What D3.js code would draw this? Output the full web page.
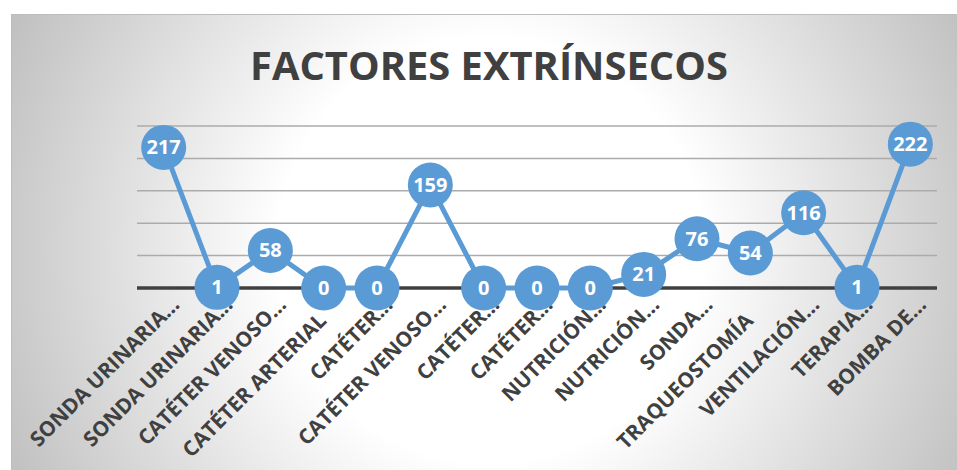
<script src="https://d3js.org/d3.v7.min.js"></script>
<style>
  body { margin: 0; background: #fff; }
  text { font-family: 'Open Sans', sans-serif; font-weight: bold; }
</style>
<svg id="vis"></svg>
<script>
  // Data
  var categories = ['SONDA URINARIA...', 'SONDA URINARIA...', 'CATÉTER VENOSO...', 'CATÉTER ARTERIAL',
    'CATÉTER...', 'CATÉTER VENOSO...', 'CATÉTER...', 'CATÉTER...', 'NUTRICIÓN...', 'NUTRICIÓN...',
    'SONDA...', 'TRAQUEOSTOMÍA', 'VENTILACIÓN...', 'TERAPIA...', 'BOMBA DE...']
  var values = [217, 1, 58, 0, 0, 159, 0, 0, 0, 21, 76, 54, 116, 1, 222]
  var gridTicks = [0, 50, 100, 150, 200, 250]
  var title = 'FACTORES EXTRÍNSECOS'

  var blue = '#5b9bd5'
  var dark = '#404040'

  var svg = d3.select('#vis')
    .attr('width', 957)
    .attr('height', 470)

  // background gradient
  var defs = svg.append('defs')
  var grad = defs.append('radialGradient')
    .attr('id', 'bg')
    .attr('gradientUnits', 'userSpaceOnUse')
    .attr('cx', 490).attr('cy', 250).attr('r', 530)
  grad.append('stop').attr('offset', 0).attr('stop-color', '#ffffff')
  grad.append('stop').attr('offset', 0.4).attr('stop-color', '#ffffff')
  grad.append('stop').attr('offset', 1).attr('stop-color', '#c0c0c0')

  svg.append('rect')
    .attr('x', 11.5).attr('y', 14.5)
    .attr('width', 950).attr('height', 460)
    .attr('fill', 'url(#bg)')
    .attr('stroke', '#bdbdbd')

  // scales
  var x = d3.scalePoint()
    .domain(d3.range(categories.length))
    .range([137, 937])
    .padding(0.5)

  var y = d3.scaleLinear()
    .domain([0, 250])
    .range([288, 126])

  // title, fitted to width
  var t = svg.append('text')
    .attr('x', 489).attr('y', 80)
    .attr('text-anchor', 'middle')
    .attr('fill', dark)
    .style('font-size', '40px')
    .text(title)
  t.style('font-size', (40 * 478 / t.node().getComputedTextLength()) + 'px')

  // gridlines
  svg.append('g').selectAll('line')
    .data(gridTicks.slice(1))
    .enter().append('line')
    .attr('x1', 137).attr('x2', 937)
    .attr('y1', function(d) { return y(d) })
    .attr('y2', function(d) { return y(d) })
    .attr('stroke', '#ababab')
    .attr('stroke-width', 1.5)

  // axis line
  svg.append('line')
    .attr('x1', 137).attr('x2', 937)
    .attr('y1', y(0)).attr('y2', y(0))
    .attr('stroke', dark)
    .attr('stroke-width', 3.5)

  // category labels
  var labels = svg.append('g').selectAll('text')
    .data(categories)
    .enter().append('text')
    .attr('text-anchor', 'end')
    .attr('fill', dark)
    .style('font-size', '20px')
    .text(function(d) { return d })

  // fit label size to the full label width
  var ref = labels.filter(function(d) { return d == 'CATÉTER ARTERIAL' }).node()
  var labelSize = 20 * 193 / ref.getComputedTextLength()
  labels.style('font-size', labelSize + 'px')
    .attr('transform', function(d, i) {
      var cut = d.slice(-3) == '...'
      var lx = x(i) + (cut ? 17 : 4)
      var ly = cut ? 306 : 322
      return 'translate(' + lx + ',' + ly + ') rotate(-45)'
    })

  // line
  var line = d3.line()
    .x(function(d, i) { return x(i) })
    .y(function(d) { return y(d) })

  svg.append('path')
    .attr('d', line(values))
    .attr('fill', 'none')
    .attr('stroke', blue)
    .attr('stroke-width', 5)

  // markers
  svg.append('g').selectAll('circle')
    .data(values)
    .enter().append('circle')
    .attr('cx', function(d, i) { return x(i) })
    .attr('cy', function(d) { return y(d) })
    .attr('r', 22.5)
    .attr('fill', blue)

  // value labels
  svg.append('g').selectAll('text')
    .data(values)
    .enter().append('text')
    .attr('x', function(d, i) { return x(i) })
    .attr('y', function(d) { return y(d) + 7 })
    .attr('text-anchor', 'middle')
    .attr('fill', '#ffffff')
    .style('font-size', '20px')
    .text(function(d) { return d })
</script>
